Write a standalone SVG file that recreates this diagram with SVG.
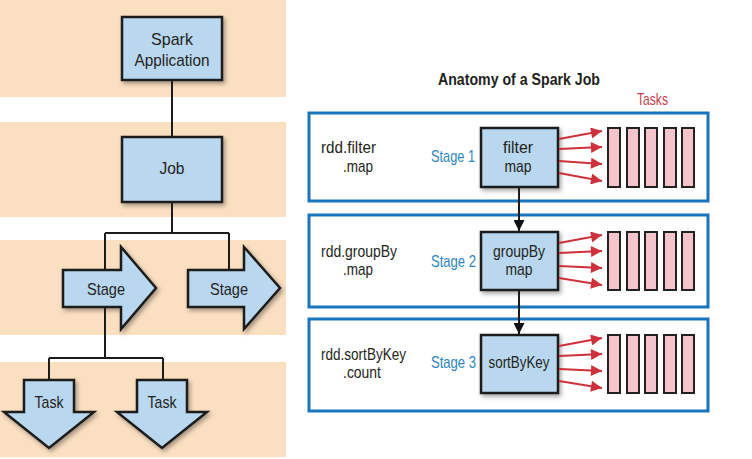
<svg xmlns="http://www.w3.org/2000/svg" width="752" height="459" viewBox="0 0 752 459">
<style>
.band{fill:#fbdfc1}
.node{fill:#b9d7ee;stroke:#1c1c1c;stroke-width:2.5;stroke-linejoin:miter;filter:url(#sh)}
.t{font-family:"Liberation Sans Narrow","Liberation Sans",Arial,sans-serif;fill:#231f20;font-size:17px}
.c{text-anchor:middle}
.blue{fill:#2a86c8}
.red{fill:#c9414d}
.stagebox{fill:none;stroke:#1b75bc;stroke-width:3}
.task{fill:#f4c4ca;stroke:#222;stroke-width:2}
.ln{stroke:#1c1c1c;stroke-width:2;fill:none}
.ra{stroke:#d0303b;stroke-width:2;fill:none;marker-end:url(#rh)}
.ba{stroke:#1c1c1c;stroke-width:2;fill:none;marker-end:url(#bh)}
</style>
<defs>
<filter id="sh" x="-20%" y="-20%" width="150%" height="150%">
<feDropShadow dx="2" dy="2.5" stdDeviation="2" flood-color="#000" flood-opacity="0.35"/>
</filter>
<marker id="rh" viewBox="0 0 10 10" refX="10" refY="5" markerWidth="6" markerHeight="5.5" markerUnits="strokeWidth" orient="auto">
<path d="M0,0 L10,5 L0,10 Z" fill="#d0303b"/>
</marker>
<marker id="bh" viewBox="0 0 10 10" refX="10" refY="5" markerWidth="5.5" markerHeight="5.5" markerUnits="strokeWidth" orient="auto">
<path d="M0,0 L10,5 L0,10 Z" fill="#111"/>
</marker>
</defs>
<rect width="752" height="459" fill="#fff"/>
<g id="bands">
<rect class="band" x="0" y="0" width="286" height="97"/>
<rect class="band" x="0" y="122" width="286" height="95"/>
<rect class="band" x="0" y="240" width="286" height="95"/>
<rect class="band" x="0" y="362" width="286" height="95"/>
</g>
<g id="spark-application">
<rect class="node" x="122" y="17" width="100" height="63"/>
<text class="t c" x="172" y="45" font-size="20" textLength="42" lengthAdjust="spacingAndGlyphs">Spark</text>
<text class="t c" x="172" y="66" font-size="20" textLength="75" lengthAdjust="spacingAndGlyphs">Application</text>
</g>
<g id="job">
<rect class="node" x="122" y="137" width="100" height="65"/>
<text class="t c" x="172" y="174" font-size="20" textLength="25" lengthAdjust="spacingAndGlyphs">Job</text>
</g>
<g id="stage-a">
<polygon class="node" points="63,270 121,270 121,247 156,288 121,329 121,307 63,307"/>
<text class="t c" x="106" y="295" font-size="20" textLength="38" lengthAdjust="spacingAndGlyphs">Stage</text>
</g>
<g id="stage-b">
<polygon class="node" points="188,270 244,270 244,247 280,288 244,329 244,307 188,307"/>
<text class="t c" x="229" y="295" font-size="20" textLength="38" lengthAdjust="spacingAndGlyphs">Stage</text>
</g>
<g id="task-a">
<polygon class="node" points="24,380 74,380 74,412 94,412 49,448 4,412 24,412"/>
<text class="t c" x="49" y="408" font-size="20" textLength="29" lengthAdjust="spacingAndGlyphs">Task</text>
</g>
<g id="task-b">
<polygon class="node" points="137,380 187,380 187,412 207,412 162,448 117,412 137,412"/>
<text class="t c" x="162" y="408" font-size="20" textLength="29" lengthAdjust="spacingAndGlyphs">Task</text>
</g>
<g id="title">
<text class="t" x="438" y="85" font-weight="bold" font-size="17" textLength="162" lengthAdjust="spacingAndGlyphs">Anatomy of a Spark Job</text>
<text class="t red" x="637" y="105" font-size="17" textLength="31" lengthAdjust="spacingAndGlyphs">Tasks</text>
</g>
<g id="stage1">
<rect class="stagebox" x="309" y="113" width="399" height="88"/>
<text class="t" x="321" y="153" textLength="55" lengthAdjust="spacingAndGlyphs">rdd.filter</text>
<text class="t" x="343" y="172" textLength="30" lengthAdjust="spacingAndGlyphs">.map</text>
<text class="t blue" x="431" y="162" textLength="44" lengthAdjust="spacingAndGlyphs">Stage 1</text>
<rect class="node" x="481" y="128" width="77" height="59"/>
<text class="t c" x="518" y="153" textLength="30" lengthAdjust="spacingAndGlyphs">filter</text>
<text class="t c" x="518" y="172" textLength="27" lengthAdjust="spacingAndGlyphs">map</text>
<g>
<rect class="task" x="608" y="128" width="12" height="59"/>
<rect class="task" x="627" y="128" width="12" height="59"/>
<rect class="task" x="645" y="128" width="12" height="59"/>
<rect class="task" x="664" y="128" width="12" height="59"/>
<rect class="task" x="682" y="128" width="12" height="59"/>
</g>
</g>
<g id="stage2">
<rect class="stagebox" x="309" y="215" width="399" height="92"/>
<text class="t" x="321" y="257" textLength="76" lengthAdjust="spacingAndGlyphs">rdd.groupBy</text>
<text class="t" x="343" y="275" textLength="30" lengthAdjust="spacingAndGlyphs">.map</text>
<text class="t blue" x="431" y="267" textLength="45" lengthAdjust="spacingAndGlyphs">Stage 2</text>
<rect class="node" x="481" y="232" width="77" height="58"/>
<text class="t c" x="519" y="257" textLength="52" lengthAdjust="spacingAndGlyphs">groupBy</text>
<text class="t c" x="519" y="275" textLength="27" lengthAdjust="spacingAndGlyphs">map</text>
<g>
<rect class="task" x="608" y="232" width="12" height="58"/>
<rect class="task" x="627" y="232" width="12" height="58"/>
<rect class="task" x="645" y="232" width="12" height="58"/>
<rect class="task" x="664" y="232" width="12" height="58"/>
<rect class="task" x="682" y="232" width="12" height="58"/>
</g>
</g>
<g id="stage3">
<rect class="stagebox" x="309" y="319" width="399" height="92"/>
<text class="t" x="321" y="360" textLength="85" lengthAdjust="spacingAndGlyphs">rdd.sortByKey</text>
<text class="t" x="343" y="378" textLength="38" lengthAdjust="spacingAndGlyphs">.count</text>
<text class="t blue" x="431" y="368" textLength="45" lengthAdjust="spacingAndGlyphs">Stage 3</text>
<rect class="node" x="481" y="335" width="77" height="58"/>
<text class="t c" x="519" y="368" textLength="61" lengthAdjust="spacingAndGlyphs">sortByKey</text>
<g>
<rect class="task" x="608" y="335" width="12" height="58"/>
<rect class="task" x="627" y="335" width="12" height="58"/>
<rect class="task" x="645" y="335" width="12" height="58"/>
<rect class="task" x="664" y="335" width="12" height="58"/>
<rect class="task" x="682" y="335" width="12" height="58"/>
</g>
</g>
<g id="connectors">
<path class="ln" d="M172,81 V136"/>
<path class="ln" d="M172,203 V233 M105,233 H229 M105,233 V269 M229,233 V269"/>
<path class="ln" d="M105,308 V358 M49,358 H163 M49,358 V379 M163,358 V379"/>
<path class="ba" d="M519,188 V231"/>
<path class="ba" d="M519,291 V334"/>
<path class="ra" d="M559,139 L602,131"/>
<path class="ra" d="M559,149 L602,147"/>
<path class="ra" d="M559,161 L602,164"/>
<path class="ra" d="M559,173 L602,181"/>
<path class="ra" d="M559,243 L602,235"/>
<path class="ra" d="M559,253 L602,251"/>
<path class="ra" d="M559,266 L602,268"/>
<path class="ra" d="M559,278 L602,285"/>
<path class="ra" d="M559,346 L602,338"/>
<path class="ra" d="M559,356 L602,354"/>
<path class="ra" d="M559,369 L602,371"/>
<path class="ra" d="M559,381 L602,388"/>
</g>
</svg>
